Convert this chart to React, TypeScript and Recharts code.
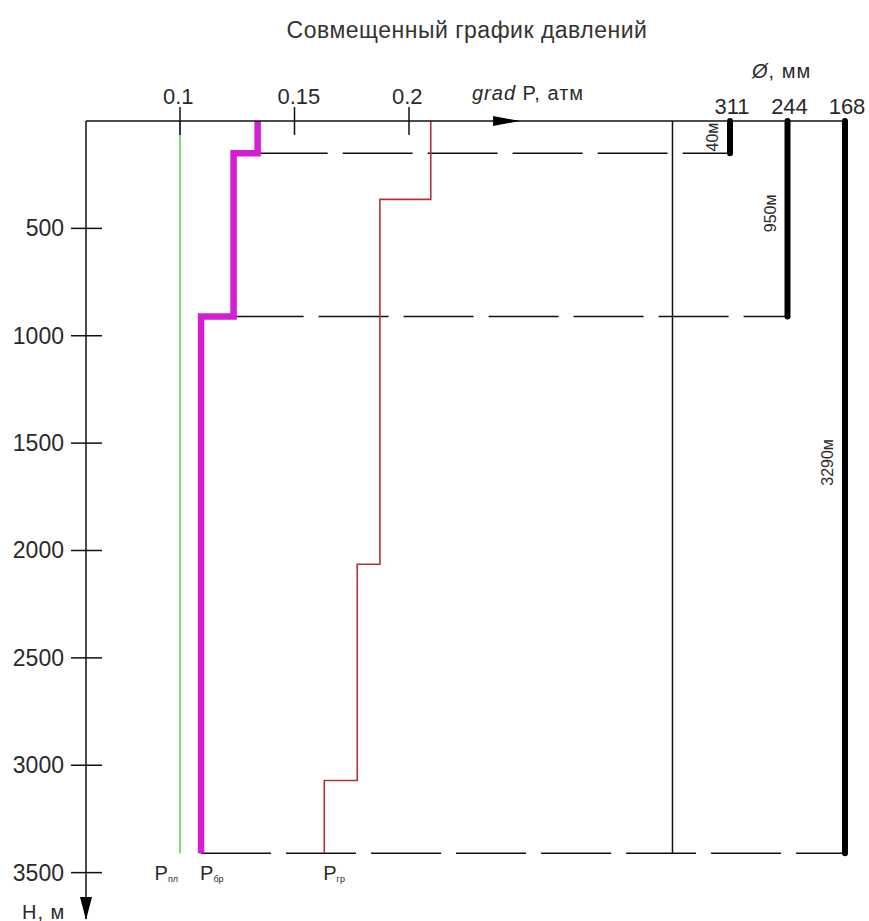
import React from 'react';
import { ComposedChart, Line, XAxis, YAxis, ReferenceDot } from 'recharts';

// ---------- data ----------
const TITLE = 'Совмещенный график давлений';
const DEPTH_TICKS = [500, 1000, 1500, 2000, 2500, 3000, 3500];
const GRAD_TICKS = [0.1, 0.15, 0.2];
const DIAMETERS = [311, 244, 168];
const SHOE_DEPTHS = [150, 910, 3410];
const CASING_LABELS = ['40м', '950м', '3290м'];
const CASING_LABEL_DEPTHS = [75, 430, 1590];
const PL_VALUE = 0.1; // пластовое
const BR_BREAKS = [0, 150, 910, 3410];
const BR_VALUES = [0.1339, 0.1234, 0.1092];
const GR_BREAKS = [0, 365, 2064, 3071, 3410];
const GR_VALUES = [0.2095, 0.1873, 0.1774, 0.163];
const CURVE_LABELS = [
  { sub: 'пл', value: PL_VALUE, anchor: 'end' },
  { sub: 'бр', value: BR_VALUES[BR_VALUES.length - 1], anchor: 'start' },
  { sub: 'гр', value: GR_VALUES[GR_VALUES.length - 1], anchor: 'start' },
];

// ---------- layout ----------
const W = 869;
const H = 921;
const G_MIN = 0.05895;
const G_MAX = 0.39039;
const D_MAX = 3716;
const COL_STEP = 0.02511;
const ARROW_G = 0.2485;
const LABEL_DEPTH = 3500;
const FONT = '"Liberation Sans", Arial, sans-serif';
const TEXT = '#2a2a2a';
const MAGENTA = '#d41ed4';
const RED = '#b03434';
const GREEN = '#4fd34f';

const colX = (i: number) => G_MAX - (DIAMETERS.length - 1 - i) * COL_STEP;
const COL_POS = DIAMETERS.map((_, i) => colX(i));

const steps = (breaks: number[], values: number[]) => {
  const out: { x: number; y: number }[] = [];
  values.forEach((v, i) => {
    out.push({ x: v, y: breaks[i] });
    out.push({ x: v, y: breaks[i + 1] });
  });
  return out;
};

const brData = steps(BR_BREAKS, BR_VALUES);
const grData = steps(GR_BREAKS, GR_VALUES);
const plData = [
  { x: PL_VALUE, y: 0 },
  { x: PL_VALUE, y: SHOE_DEPTHS[SHOE_DEPTHS.length - 1] },
];
const sepData = [
  { x: colX(-1), y: 0 },
  { x: colX(-1), y: SHOE_DEPTHS[SHOE_DEPTHS.length - 1] },
];

const GradTick = (props: any) => {
  const { x, y, payload } = props;
  const v = payload.value;
  const ci = COL_POS.findIndex((c) => Math.abs(c - v) < 1e-6);
  if (ci >= 0) {
    return (
      <text x={x + 2} y={y - 15} textAnchor="middle" dominantBaseline="central" fontSize={22} fontFamily={FONT} fill={TEXT}>
        {DIAMETERS[ci]}
      </text>
    );
  }
  return (
    <g>
      <line x1={x} x2={x} y1={y - 14} y2={y + 14} stroke="#111" strokeWidth={1.5} />
      <text x={x - 17} y={y - 25} textAnchor="start" dominantBaseline="central" fontSize={22} fontFamily={FONT} fill={TEXT}>
        {String(v)}
      </text>
    </g>
  );
};

const DepthTick = (props: any) => {
  const { x, y, payload } = props;
  return (
    <g>
      <line x1={x - 15} x2={x + 16} y1={y} y2={y} stroke="#111" strokeWidth={1.5} />
      <text x={x - 22} y={y} textAnchor="end" dominantBaseline="central" fontSize={23} fontFamily={FONT} fill={TEXT}>
        {payload.value}
      </text>
    </g>
  );
};

export default function App() {
  return (
    <div style={{ position: 'relative', width: W, height: H, background: '#fff' }}>
      <style>{'body{margin:0}'}</style>
      <ComposedChart width={W} height={H} margin={{ top: 91, right: 24, bottom: 2, left: 6 }}>
        <XAxis
          orientation="top"
          type="number"
          dataKey="x"
          domain={[G_MIN, G_MAX]}
          ticks={[...GRAD_TICKS, ...COL_POS]}
          interval={0}
          height={30}
          tickSize={0}
          tickMargin={0}
          tick={GradTick}
          axisLine={{ stroke: '#111', strokeWidth: 1.5 }}
          tickLine={false}
        />
        <YAxis
          type="number"
          dataKey="y"
          reversed
          domain={[0, D_MAX]}
          ticks={DEPTH_TICKS}
          interval={0}
          width={80}
          tickSize={0}
          tickMargin={0}
          tick={DepthTick}
          axisLine={{ stroke: '#111', strokeWidth: 1.5 }}
          tickLine={false}
        />
        {SHOE_DEPTHS.map((d, i) => (
          <Line
            key={'dash' + i}
            data={[
              { x: BR_VALUES[i], y: d },
              { x: colX(i), y: d },
            ]}
            dataKey="y"
            type="linear"
            stroke="#111"
            strokeWidth={1.5}
            strokeDasharray="70 15"
            dot={false}
            activeDot={false}
            isAnimationActive={false}
          />
        ))}
        <Line data={sepData} dataKey="y" type="linear" stroke="#111" strokeWidth={1.5} dot={false} activeDot={false} isAnimationActive={false} />
        {SHOE_DEPTHS.map((d, i) => (
          <Line
            key={'col' + i}
            data={[
              { x: colX(i), y: 0 },
              { x: colX(i), y: d },
            ]}
            dataKey="y"
            type="linear"
            stroke="#000"
            strokeWidth={6}
            strokeLinecap="round"
            dot={false}
            activeDot={false}
            isAnimationActive={false}
          />
        ))}
        <Line data={plData} dataKey="y" type="linear" stroke={GREEN} strokeWidth={1.5} dot={false} activeDot={false} isAnimationActive={false} />
        <Line data={grData} dataKey="y" type="linear" stroke={RED} strokeWidth={1.6} dot={false} activeDot={false} isAnimationActive={false} />
        <Line
          data={brData}
          dataKey="y"
          type="linear"
          stroke={MAGENTA}
          strokeWidth={6.5}
          strokeLinejoin="miter"
          dot={false}
          activeDot={false}
          isAnimationActive={false}
        />
        {SHOE_DEPTHS.map((d, i) => (
          <ReferenceDot
            key={'cl' + i}
            x={colX(i)}
            y={CASING_LABEL_DEPTHS[i]}
            r={0}
            shape={(p: any) => (
              <text
                x={p.cx - 17}
                y={p.cy}
                transform={`rotate(-90 ${p.cx - 17} ${p.cy})`}
                textAnchor="middle"
                dominantBaseline="central"
                fontSize={16}
                fontFamily={FONT}
                fill={TEXT}
              >
                {CASING_LABELS[i]}
              </text>
            )}
          />
        ))}
        {CURVE_LABELS.map((c, i) => (
          <ReferenceDot
            key={'pl' + i}
            x={c.value}
            y={LABEL_DEPTH}
            r={0}
            shape={(p: any) => (
              <text
                x={c.anchor === 'end' ? p.cx - 2 : p.cx - 1}
                y={p.cy + 7}
                textAnchor={c.anchor as any}
                fontSize={20}
                fontFamily={FONT}
                fill={TEXT}
              >
                P<tspan fontSize={9} dy={2}>{c.sub}</tspan>
              </text>
            )}
          />
        ))}
        <ReferenceDot
          x={G_MIN}
          y={D_MAX}
          r={0}
          shape={(p: any) => (
            <polygon points={`${p.cx - 6},${p.cy - 22} ${p.cx + 6},${p.cy - 22} ${p.cx},${p.cy + 1}`} fill="#000" />
          )}
        />
        <ReferenceDot
          x={ARROW_G}
          y={0}
          r={0}
          shape={(p: any) => (
            <polygon points={`${p.cx - 27},${p.cy - 5} ${p.cx - 27},${p.cy + 5} ${p.cx},${p.cy}`} fill="#000" />
          )}
        />
      </ComposedChart>
      <div
        style={{
          position: 'absolute',
          left: 467,
          top: 30,
          transform: 'translate(-50%, -50%)',
          whiteSpace: 'nowrap',
          fontFamily: FONT,
          fontSize: 23,
          letterSpacing: 0.5,
          color: '#333',
        }}
      >
        {TITLE}
      </div>
      <div
        style={{
          position: 'absolute',
          left: 472,
          top: 93,
          transform: 'translateY(-50%)',
          whiteSpace: 'nowrap',
          fontFamily: FONT,
          fontSize: 20,
          letterSpacing: 1,
          color: TEXT,
        }}
      >
        <i>grad</i> P, атм
      </div>
      <div
        style={{
          position: 'absolute',
          left: 752,
          top: 71,
          transform: 'translateY(-50%)',
          whiteSpace: 'nowrap',
          fontFamily: FONT,
          fontSize: 20,
          letterSpacing: 1,
          color: TEXT,
        }}
      >
        <i>Ø</i>, мм
      </div>
      <div
        style={{
          position: 'absolute',
          left: 22,
          top: 912,
          transform: 'translateY(-50%)',
          whiteSpace: 'nowrap',
          fontFamily: FONT,
          fontSize: 20,
          letterSpacing: 1,
          color: TEXT,
        }}
      >
        Н, м
      </div>
    </div>
  );
}
